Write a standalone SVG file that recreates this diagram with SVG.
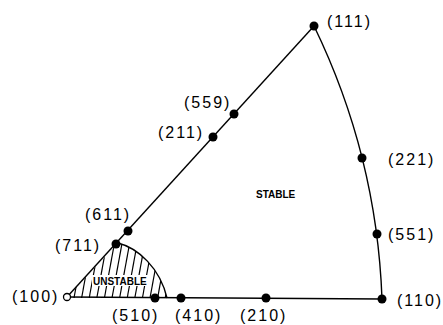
<svg xmlns="http://www.w3.org/2000/svg" width="443" height="325" viewBox="0 0 443 325">
<style>
.lbl{font-family:"Liberation Sans",Arial,sans-serif;font-size:16px;letter-spacing:2px;fill:#000}
.reg{font-family:"Liberation Sans",Arial,sans-serif;font-size:10px;font-weight:bold;fill:#000}
.dot{fill:#000}
.edge{fill:none;stroke:#000;stroke-width:1.4}
.hatch{stroke:#000;stroke-width:1.2}
</style>
<defs>
<clipPath id="unst"><path d="M67,297 L118,243 C138,248 160,268 167,298 L67,298 Z"/></clipPath>
</defs>
<rect width="443" height="325" fill="#fff"/>
<g id="region-unstable">
<g clip-path="url(#unst)">
<line class="hatch" x1="74" y1="298" x2="85" y2="238"/>
<line class="hatch" x1="81.6" y1="298" x2="92.6" y2="238"/>
<line class="hatch" x1="89.2" y1="298" x2="100.2" y2="238"/>
<line class="hatch" x1="96.8" y1="298" x2="107.8" y2="238"/>
<line class="hatch" x1="104.4" y1="298" x2="115.4" y2="238"/>
<line class="hatch" x1="112" y1="298" x2="123" y2="238"/>
<line class="hatch" x1="119.6" y1="298" x2="130.6" y2="238"/>
<line class="hatch" x1="127.2" y1="298" x2="138.2" y2="238"/>
<line class="hatch" x1="134.8" y1="298" x2="145.8" y2="238"/>
<line class="hatch" x1="142.4" y1="298" x2="153.4" y2="238"/>
<line class="hatch" x1="150" y1="298" x2="161" y2="238"/>
<line class="hatch" x1="157.6" y1="298" x2="168.6" y2="238"/>
<line class="hatch" x1="165.2" y1="298" x2="176.2" y2="238"/>
</g>
<path class="edge" d="M118,243 C138,248 160,268 167,298"/>
<rect x="92" y="275" width="59" height="11" fill="#fff"/>
<text class="reg" x="93" y="284.5">UNSTABLE</text>
</g>
<g id="region-stable">
<text class="reg" x="256" y="198">STABLE</text>
</g>
<g id="connectors">
<line class="edge" x1="67" y1="297" x2="314" y2="26"/>
<line class="edge" x1="67" y1="297" x2="382" y2="299"/>
<path class="edge" d="M314,26 A682,682 0 0,1 382,299"/>
</g>
<g id="n100"><circle cx="67" cy="297" r="3.5" fill="#fff" stroke="#000" stroke-width="1.3"/><text class="lbl" x="12" y="302">(100)</text></g>
<g id="n711"><circle class="dot" cx="116" cy="244" r="4.5"/><text class="lbl" x="55" y="251">(711)</text></g>
<g id="n611"><circle class="dot" cx="128" cy="231" r="4.5"/><text class="lbl" x="85" y="220">(611)</text></g>
<g id="n211"><circle class="dot" cx="213" cy="137" r="4.5"/><text class="lbl" x="158" y="138">(211)</text></g>
<g id="n559"><circle class="dot" cx="234" cy="114" r="4.5"/><text class="lbl" x="184" y="108">(559)</text></g>
<g id="n111"><circle class="dot" cx="314" cy="26" r="4.5"/><text class="lbl" x="327" y="27">(111)</text></g>
<g id="n221"><circle class="dot" cx="362" cy="158" r="4.5"/><text class="lbl" x="388" y="165">(221)</text></g>
<g id="n551"><circle class="dot" cx="377" cy="234" r="4.5"/><text class="lbl" x="388" y="240">(551)</text></g>
<g id="n110"><circle class="dot" cx="382" cy="299" r="4.5"/><text class="lbl" x="397" y="306">(110)</text></g>
<g id="n210"><circle class="dot" cx="266" cy="298" r="4.5"/><text class="lbl" x="240" y="321">(210)</text></g>
<g id="n410"><circle class="dot" cx="181" cy="298" r="4.5"/><text class="lbl" x="175" y="321">(410)</text></g>
<g id="n510"><circle class="dot" cx="155" cy="298" r="4.5"/><text class="lbl" x="112" y="321">(510)</text></g>
</svg>
